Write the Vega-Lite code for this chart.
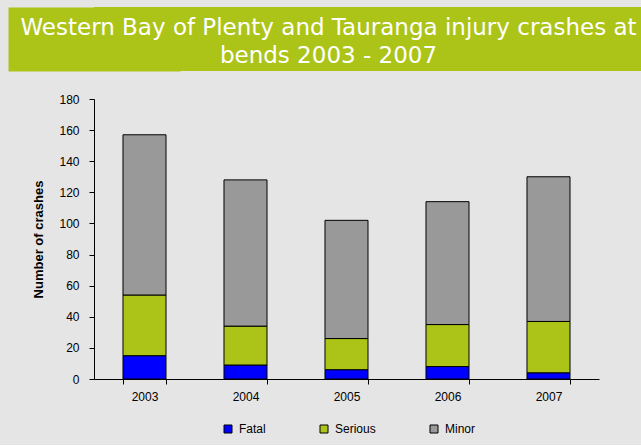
{
  "$schema": "https://vega.github.io/schema/vega-lite/v6.json",
  "background": "#e5e5e5",
  "padding": {"left": 20, "top": 7, "right": 0, "bottom": 10},
  "spacing": 22,
  "resolve": {"legend": {"color": "independent"}},
  "config": {"view": {"stroke": null}, "font": "Liberation Sans"},
  "vconcat": [
    {
      "width": 549,
      "height": 64,
      "view": {"fill": "#acc418", "stroke": null},
      "data": {"values": [{"title": "Western Bay of Plenty and Tauranga injury crashes at\nbends 2003 - 2007"}]},
      "mark": {"type": "text", "lineBreak": "\n", "font": "DejaVu Sans", "fontSize": 23, "lineHeight": 28, "color": "#ffffff", "align": "center", "baseline": "middle", "dy": -11, "dx": -40},
      "encoding": {
        "text": {"field": "title", "type": "nominal"},
        "x": {"datum": 0.5, "type": "quantitative", "scale": {"domain": [0, 1]}, "axis": null},
        "y": {"datum": 0.5, "type": "quantitative", "scale": {"domain": [0, 1]},
          "axis": {"domain": true, "domainWidth": 172, "domainColor": "#acc418", "domainCap": "butt", "labels": false, "ticks": false, "grid": false, "title": null, "offset": 0}}
      }
    },
    {
      "width": 505,
      "height": 280,
      "data": {"values": [
        {"year": "2003", "type": "Fatal", "count": 15},
        {"year": "2003", "type": "Serious", "count": 39},
        {"year": "2003", "type": "Minor", "count": 103},
        {"year": "2004", "type": "Fatal", "count": 9},
        {"year": "2004", "type": "Serious", "count": 25},
        {"year": "2004", "type": "Minor", "count": 94},
        {"year": "2005", "type": "Fatal", "count": 6},
        {"year": "2005", "type": "Serious", "count": 20},
        {"year": "2005", "type": "Minor", "count": 76},
        {"year": "2006", "type": "Fatal", "count": 8},
        {"year": "2006", "type": "Serious", "count": 27},
        {"year": "2006", "type": "Minor", "count": 79},
        {"year": "2007", "type": "Fatal", "count": 4},
        {"year": "2007", "type": "Serious", "count": 33},
        {"year": "2007", "type": "Minor", "count": 93}
      ]},
      "mark": {"type": "bar", "stroke": "#000000", "strokeWidth": 1},
      "encoding": {
        "x": {
          "field": "year", "type": "ordinal",
          "scale": {"paddingInner": 0.574, "paddingOuter": 0.287},
          "axis": {"title": null, "labelAngle": 0, "tickBand": "extent", "domainColor": "#000000", "tickColor": "#000000", "tickSize": 5, "labelFontSize": 12, "labelColor": "#000000", "labelPadding": 7}
        },
        "y": {
          "field": "count", "type": "quantitative", "stack": "zero",
          "scale": {"domain": [0, 180]},
          "axis": {
            "values": [0, 20, 40, 60, 80, 100, 120, 140, 160, 180],
            "grid": false, "domainColor": "#000000", "tickColor": "#000000", "tickSize": 5,
            "labelFontSize": 12, "labelColor": "#000000", "labelPadding": 10,
            "title": "Number of crashes", "titleFontSize": 13, "titleFontWeight": "bold", "titleColor": "#000000", "titlePadding": 13
          }
        },
        "color": {
          "field": "type", "type": "nominal",
          "sort": ["Fatal", "Serious", "Minor"],
          "scale": {"domain": ["Fatal", "Serious", "Minor"], "range": ["#0000ff", "#acc418", "#999999"]},
          "legend": {
            "orient": "none", "legendX": 128, "legendY": 324, "direction": "horizontal", "title": null,
            "symbolType": "square", "symbolSize": 64, "symbolStrokeColor": "#000000", "symbolStrokeWidth": 1, "symbolOpacity": 1,
            "labelFontSize": 12, "labelColor": "#000000", "labelOffset": 5, "columnPadding": 52
          }
        },
        "order": {"field": "count", "type": "quantitative", "sort": "ascending", "aggregate": null}
      }
    }
  ]
}
